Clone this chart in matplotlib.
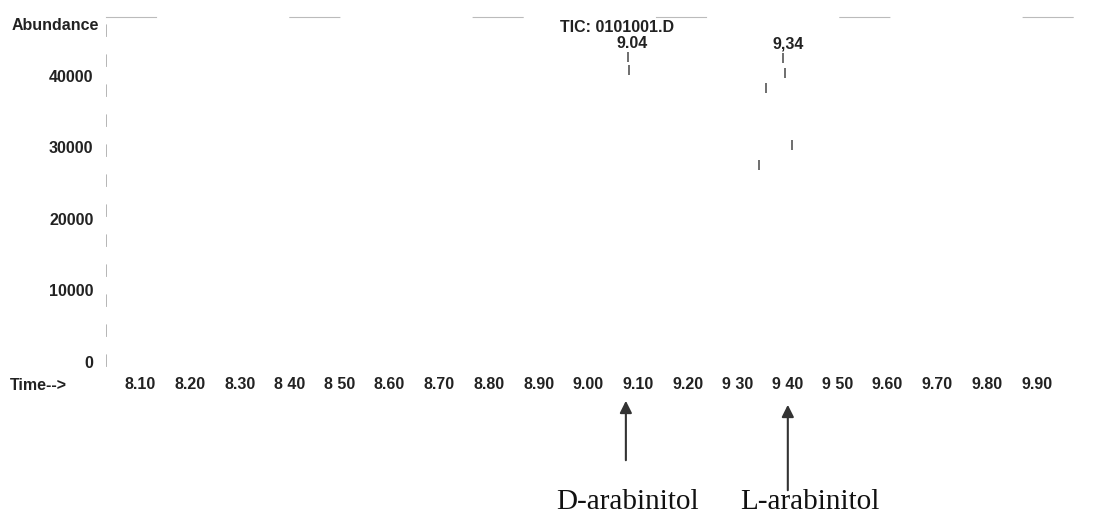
import matplotlib
matplotlib.use('Agg')
import matplotlib.pyplot as plt

# ==============================================================================
# Datos (cromatograma TIC escaneado)
# ==============================================================================
tiempos = [8.10, 8.20, 8.30, 8.40, 8.50, 8.60, 8.70, 8.80, 8.90,
           9.00, 9.10, 9.20, 9.30, 9.40, 9.50, 9.60, 9.70, 9.80, 9.90]
etiq_tiempos = ['8.10', '8.20', '8.30', '8 40', '8 50', '8.60', '8.70', '8.80',
                '8.90', '9.00', '9.10', '9.20', '9 30', '9 40', '9 50', '9.60',
                '9.70', '9.80', '9.90']
abund_ticks = [0, 10000, 20000, 30000, 40000]

# fragmentos visibles de la traza (el escaneo esta muy desvanecido)
frag_t = [9.079, 9.081, 9.390, 9.394, 9.356, 9.408, 9.342]
frag_a = [42600, 40800, 42500, 40400, 38300, 30400, 27600]

# picos etiquetados
picos_t = [9.087, 9.401]
picos_a = [43500, 43400]
picos_lbl = ['9.04', '9,34']

# compuestos senalados con flecha
comp_nombres = ['D-arabinitol', 'L-arabinitol']
comp_t = [9.075, 9.400]
comp_txt_t = [9.078, 9.444]

# ==============================================================================
# Figura
# ==============================================================================
fig = plt.figure(figsize=(11.14, 5.2), dpi=100)
ax = fig.add_axes([106 / 1114, 1 - 366 / 520, 1 - 106 / 1114, (366 - 17) / 520])

ax.plot(frag_t, frag_a, linestyle='none', marker='|', markersize=7,
        markeredgewidth=1.2, color='#555555')

ax.set_xlim(8.0317, 10.0546)
ax.set_ylim(-560, 48250)

fnt = dict(family='Liberation Sans', weight='bold', size=11.5, color='#222222')
ax.set_xticks(tiempos)
ax.set_xticklabels(etiq_tiempos, **fnt)
ax.set_yticks(abund_ticks)
ax.set_yticklabels([str(v) for v in abund_ticks], **fnt)
ax.tick_params(axis='x', length=0, pad=8)
ax.tick_params(axis='y', length=0, pad=9)

for lado in ['right', 'bottom']:
    ax.spines[lado].set_visible(False)
ax.spines['top'].set_color('#bbbbbb')
ax.spines['top'].set_linewidth(0.8)
ax.spines['top'].set_linestyle((0, (45, 120)))
ax.spines['left'].set_color('#aaaaaa')
ax.spines['left'].set_linewidth(0.6)
ax.spines['left'].set_linestyle((0, (14, 22)))

# etiquetas de picos
for t, a, lbl in zip(picos_t, picos_a, picos_lbl):
    ax.text(t, a, lbl, ha='center', va='bottom', **fnt)

# textos propios del cromatograma
fig.text(12 / 1114, 1 - 26 / 520, 'Abundance', ha='left', va='center', **fnt)
fig.text(617 / 1114, 1 - 28 / 520, 'TIC: 0101001.D', ha='center', va='center', **fnt)
fig.text(10 / 1114, 1 - 385 / 520, 'Time-->', ha='left', va='center', **fnt)

# flechas y nombres de compuestos
cabezas = [0.2346, 0.2269]
colas = [0.1096, 0.0519]
for nombre, t, tt, yc, yt in zip(comp_nombres, comp_t, comp_txt_t, cabezas, colas):
    ax.annotate('', xy=(t, yc), xycoords=('data', 'figure fraction'),
                xytext=(t, yt), textcoords=('data', 'figure fraction'),
                arrowprops=dict(arrowstyle='-|>', color='#333333', lw=1.5,
                                mutation_scale=18),
                annotation_clip=False)
    ax.annotate(nombre, xy=(tt, 0.034), xycoords=('data', 'figure fraction'),
                ha='center', va='center', family='Liberation Serif', size=21,
                color='#111111', annotation_clip=False)

plt.savefig('out.png', dpi=100)
